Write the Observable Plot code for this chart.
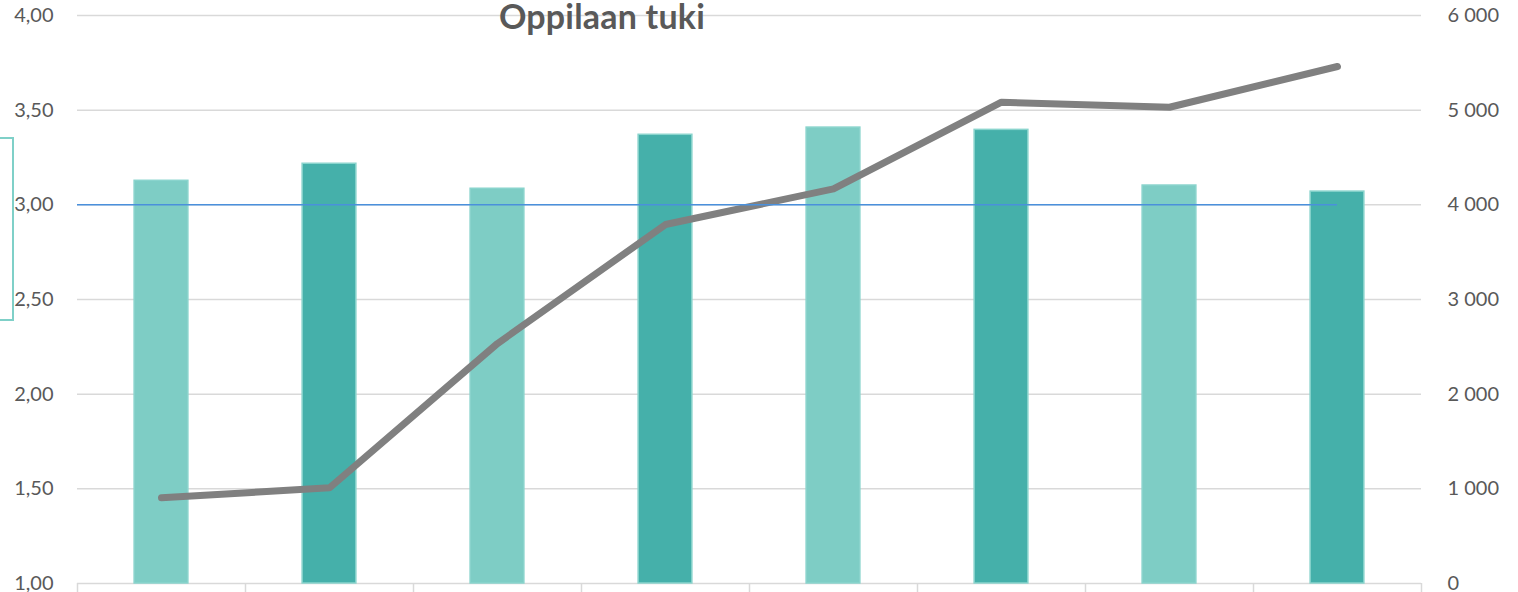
<!DOCTYPE html>
<html>
<head>
<meta charset="utf-8">
<script src="https://cdn.jsdelivr.net/npm/d3@7"></script>
<script src="https://cdn.jsdelivr.net/npm/@observablehq/plot@0.6"></script>
<style>
  html, body { margin: 0; padding: 0; background: #fff; }
  #wrap { position: relative; width: 1518px; height: 592px; overflow: hidden; }
  #title { position: absolute; top: -5px; left: 602px; transform: translateX(-50%);
           font-family: Lato, "Open Sans", sans-serif; font-weight: 700; font-size: 34px;
           color: #595959; white-space: nowrap; letter-spacing: 0.2px; }
  #box { position: absolute; left: -12px; top: 137px; width: 22px; height: 180px;
         border: 2px solid #7fd0c8; }
</style>
</head>
<body>
<div id="wrap">
  <div id="chart"></div>
  <div id="title">Oppilaan tuki</div>
  <div id="box"></div>
</div>
<script>
// Categories (the source shows no category labels)
const categories = ["1", "2", "3", "4", "5", "6", "7", "8"];
// Bar series: averages on the left axis (1,00 – 4,00)
const averages = [3.127, 3.217, 3.085, 3.370, 3.408, 3.396, 3.102, 3.070];
// Bar tone per category
const tones = ["light", "dark", "light", "dark", "light", "dark", "light", "dark"];
// Line series: counts on the right axis (0 – 6 000)
const counts = [905, 1011, 2535, 3792, 4169, 5084, 5031, 5461];
// Reference line value on the left axis
const referenceValue = [3];
// Axis ticks
const leftTicks = [1, 1.5, 2, 2.5, 3, 3.5, 4];
const rightTicks = [0, 1000, 2000, 3000, 4000, 5000, 6000];

const leftDomain = [1, 4];
const rightDomain = [0, 6000];
const toLeft = d3.scaleLinear().domain(rightDomain).range(leftDomain);

const rows = categories.map((c, i) => ({
  category: c, i, center: i + 0.5, avg: averages[i], tone: tones[i],
  count: counts[i], countY: toLeft(counts[i])
}));

const fmtLeft = d => d.toFixed(2).replace(".", ",");
const fmtRight = d => {
  const v = Math.round(toLeft.invert(d));
  return v.toString().replace(/\B(?=(\d{3})+(?!\d))/g, " ");
};
const rightTickPositions = rightTicks.map(toLeft);
const halfBar = 0.16;

const chart = Plot.plot({
  width: 1518,
  height: 592,
  marginLeft: 77,
  marginRight: 97,
  marginTop: 15,
  marginBottom: 9,
  style: { fontFamily: "Lato, 'Open Sans', sans-serif", fontSize: "20px", color: "#595959", background: "#fff", overflow: "visible" },
  x: { type: "linear", domain: [0, categories.length], axis: null, label: null },
  y: { domain: leftDomain, axis: null, label: null },
  color: { domain: ["light", "dark"], range: ["#7ecdc5", "#45b0aa"] },
  marks: [
    Plot.ruleY(leftTicks, { stroke: "#d9d9d9", strokeWidth: 1.5 }),
    Plot.axisX({ ticks: d3.range(categories.length + 1), tickSize: 9, tickFormat: () => "", label: null, stroke: "#d9d9d9", strokeWidth: 1.5 }),
    Plot.axisY({ anchor: "left", ticks: leftTicks, tickSize: 0, tickPadding: 24, tickFormat: fmtLeft, label: null, fontSize: 20, fill: "#595959" }),
    Plot.axisY({ anchor: "right", ticks: rightTickPositions, tickSize: 0, tickPadding: 26, tickFormat: fmtRight, label: null, fontSize: 20, fill: "#595959", textAnchor: "start" }),
    Plot.rectY(rows, {
      x1: d => d.center - halfBar, x2: d => d.center + halfBar,
      y1: leftDomain[0], y2: "avg", fill: "tone", stroke: "#8ad4cd", strokeWidth: 1.5
    }),
    Plot.lineY(rows, { x: "center", y: "countY", stroke: "#808080", strokeWidth: 7, strokeLinecap: "round", strokeLinejoin: "round" }),
    Plot.ruleY(referenceValue, { x1: 0, x2: rows[rows.length - 1].center, stroke: "#4a90dc", strokeWidth: 1.5 })
  ]
});
document.getElementById("chart").appendChild(chart);
</script>
</body>
</html>
